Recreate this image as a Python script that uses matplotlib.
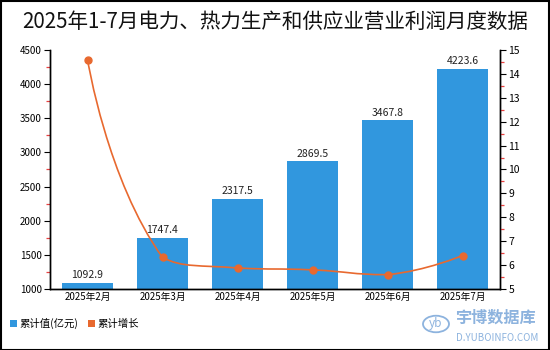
import matplotlib
matplotlib.use("Agg")
import matplotlib.pyplot as plt
from matplotlib.path import Path
from matplotlib.patches import PathPatch, Rectangle, Circle
import numpy as np

plt.rcParams['font.family'] = ['Noto Sans CJK SC', 'DejaVu Sans']

categories = ["2025年2月", "2025年3月", "2025年4月", "2025年5月", "2025年6月", "2025年7月"]
values = [1092.9, 1747.4, 2317.5, 2869.5, 3467.8, 4223.6]
growth = [14.6, 6.32, 5.88, 5.8, 5.6, 6.4]
left_ticks = [1000, 1500, 2000, 2500, 3000, 3500, 4000, 4500]
right_ticks = list(range(5, 16))
title = "2025年1-7月电力、热力生产和供应业营业利润月度数据"
legend_labels = ["累计值(亿元)", "累计增长"]

BAR_C = '#3197DE'
LINE_C = '#E8692F'
W, H = 550, 350

fig = plt.figure(figsize=(W / 100, H / 100), dpi=100)
ax = fig.add_axes([50 / W, 1 - 289 / H, 450 / W, 239 / H])
ax2 = ax.twinx()

x = np.arange(len(categories))
bars = ax.bar(x, values, width=0.667, color=BAR_C, zorder=2)
ax.set_xlim(-0.5, len(categories) - 0.5)
ax.set_ylim(left_ticks[0], left_ticks[-1])
ax.set_yticks(left_ticks)
ax.set_yticks(np.arange(1250, 4500, 500), minor=True)
ax.set_xticks(x)
ax.set_xticklabels(categories, fontsize=7)
ax.tick_params(axis='x', length=0, pad=2)
ax.tick_params(axis='y', which='major', labelsize=7, length=4, width=0.8, pad=2, colors='black')
ax.tick_params(axis='y', which='minor', length=3, width=0.9, color='#E84040')

for xi, v in zip(x, values):
    ax.annotate(f"{v}", (xi, v), xytext=(0, 2), textcoords='offset points',
                ha='center', va='bottom', fontsize=7.5, color='#222222')

ax2.set_ylim(right_ticks[0], right_ticks[-1])
ax2.set_yticks(right_ticks)
ax2.set_yticks(np.arange(5.5, 15, 1), minor=True)
ax2.tick_params(axis='y', which='major', labelsize=7.5, length=4, width=0.8, pad=2)
ax2.tick_params(axis='y', which='minor', length=3, width=0.9, color='#E84040')

for a in (ax, ax2):
    a.spines['top'].set_visible(False)
    for s in ('left', 'right', 'bottom'):
        a.spines[s].set_linewidth(1.0)
        a.spines[s].set_color('black')

# echarts-like smooth line (smooth = 0.5) computed in display space
pts = ax2.transData.transform(np.column_stack([x, growth]))
smooth = 0.5
verts = [tuple(pts[0])]
codes = [Path.MOVETO]
cp0 = pts[0].copy()
n = len(pts)
for i in range(1, n):
    p = pts[i]
    prev = pts[i - 1]
    if i == n - 1:
        cp1 = p.copy()
        ncp0 = p.copy()
    else:
        nxt = pts[i + 1]
        v = nxt - prev
        l0 = np.hypot(*(p - prev))
        l1 = np.hypot(*(nxt - p))
        r = l1 / (l0 + l1)
        cp1 = p - v * smooth * (1 - r)
        ncp0 = p + v * smooth * r
        ncp0 = np.minimum(ncp0, np.maximum(nxt, p))
        ncp0 = np.maximum(ncp0, np.minimum(nxt, p))
        cp1 = np.minimum(cp1, np.maximum(prev, p))
        cp1 = np.maximum(cp1, np.minimum(prev, p))
    verts += [tuple(cp0), tuple(cp1), tuple(p)]
    codes += [Path.CURVE4] * 3
    cp0 = ncp0
dverts = ax2.transData.inverted().transform(np.array(verts))
patch = PathPatch(Path(dverts, codes), facecolor='none', edgecolor=LINE_C, lw=1.2,
                  transform=ax2.transData, zorder=3)
ax2.add_patch(patch)
ax2.plot(x, growth, 'o', color=LINE_C, markersize=5, zorder=4)

fig.text(0.5, 1 - 22 / H, title, ha='center', va='center', fontsize=14.8, color='#111111')

# legend
fig.patches.append(Rectangle((10 / W, 1 - 327 / H), 7 / W, 7 / H, transform=fig.transFigure,
                             facecolor=BAR_C, edgecolor='none'))
fig.text(19 / W, 1 - 323.5 / H, legend_labels[0], ha='left', va='center', fontsize=7.5)
fig.patches.append(Rectangle((88 / W, 1 - 327 / H), 7 / W, 7 / H, transform=fig.transFigure,
                             facecolor=LINE_C, edgecolor='none'))
fig.text(97 / W, 1 - 323.5 / H, legend_labels[1], ha='left', va='center', fontsize=7.5)

# watermark
wm = '#8DB3DE'
fig.patches.append(Circle((436 / W, 1 - 324 / H), 13 / W, transform=fig.transFigure,
                          facecolor='none', edgecolor=wm, lw=1.3))
fig.text(436 / W, 1 - 324 / H, "yb", ha='center', va='center', fontsize=8.5, color=wm, style='italic')
fig.text(455 / W, 1 - 318 / H, "宇博数据库", ha='left', va='center', fontsize=11.6, color=wm,
         fontweight='bold')
fig.text(456 / W, 1 - 338 / H, "D.YUBOINFO.COM", ha='left', va='center', fontsize=7, color=wm)

# outer border
fig.patches.append(Rectangle((0.5 / W, 0.5 / H), (W - 1.5) / W, (H - 1.5) / H,
                             transform=fig.transFigure, facecolor='none',
                             edgecolor='black', lw=1.5))

fig.savefig("out.png", dpi=100)
